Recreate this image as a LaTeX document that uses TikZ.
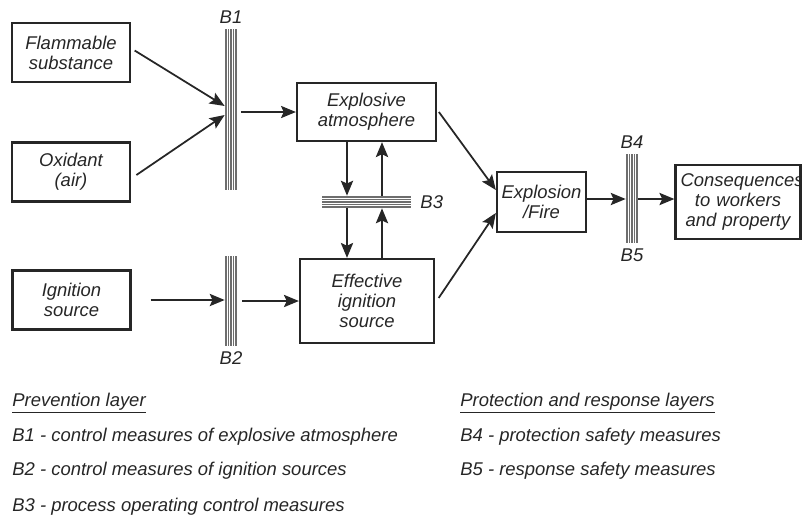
\documentclass[tikz,border=0pt]{standalone}
\usepackage{fontspec}
\setmainfont{Liberation Sans}
\usepackage{tikz}
\usetikzlibrary{
  arrows.meta,
  positioning,
  calc,
}
\definecolor{barrierline}{HTML}{6e6e6e}
\definecolor{inkdark}{HTML}{262626}

\begin{document}
\begin{tikzpicture}[
  box/.style={
    draw=inkdark, line width=1.3pt, align=center, inner sep=2pt,
    font=\itshape\fontsize{10.5}{11.4}\selectfont, text=inkdark,
  },
  vbar/.style={
    minimum width=0.24cm, inner sep=0pt,
    path picture={
      \foreach \i in {-2,...,2}
        \draw[barrierline, line width=0.6pt]
          ([xshift=\i*0.05cm]path picture bounding box.north) --
          ([xshift=\i*0.05cm]path picture bounding box.south);
    },
  },
  hbar/.style={
    minimum height=0.24cm, inner sep=0pt,
    path picture={
      \foreach \i in {-2,...,2}
        \draw[barrierline, line width=0.6pt]
          ([yshift=\i*0.05cm]path picture bounding box.west) --
          ([yshift=\i*0.05cm]path picture bounding box.east);
    },
  },
  blbl/.style={
    font=\itshape\fontsize{10.5}{11.4}\selectfont, text=inkdark, inner sep=1pt,
  },
  arr/.style={
    draw=inkdark, -{Stealth[length=8.5pt, width=7pt, inset=1.6pt]}, line width=1pt,
  },
  legend/.style={
    anchor=west, inner sep=0pt,
    font=\itshape\fontsize{10.5}{11.4}\selectfont, text=inkdark,
  },
]
  \useasboundingbox (0,0) rectangle (16.04,-10.38);

  % Sources
  \node[box, minimum width=2.36cm, minimum height=1.18cm] (flam) at (1.42,-1.05) {Flammable\\substance};
  \node[box, minimum width=2.36cm, minimum height=1.18cm] (oxid) at (1.42,-3.44) {Oxidant\\(air)};
  \node[box, minimum width=2.36cm, minimum height=1.18cm] (ign)  at (1.43,-6.0) {Ignition\\source};

  % Intermediate states
  \node[box, minimum width=2.78cm, minimum height=1.16cm] (expl) at (7.33,-2.24) {Explosive\\atmosphere};
  \node[box, minimum width=2.68cm, minimum height=1.68cm] (eff)  at (7.34,-6.02) {Effective\\ignition\\source};
  \node[box, minimum width=1.78cm, minimum height=1.2cm]  (fire) at (10.83,-4.04) {Explosion\\/Fire};
  \node[box, text width=2.3cm, inner xsep=0.1cm, minimum height=1.48cm] (cons)
    at (14.76,-4.04) {Consequences\\to workers\\and property};

  % Barriers
  \node[vbar, minimum height=3.22cm] (b1) at (4.62,-2.19) {};
  \node[vbar, minimum height=1.8cm]  (b2) at (4.62,-6.02) {};
  \node[hbar, minimum width=1.78cm]  (b3) at (7.33,-4.04) {};
  \node[vbar, minimum height=1.78cm] (b45) at (12.64,-3.97) {};
  \node[blbl, above=2pt of b1] {B1};
  \node[blbl, below=2pt of b2] {B2};
  \node[blbl, right=0.14cm of b3] {B3};
  \node[blbl, above=2pt of b45] {B4};
  \node[blbl, below=2pt of b45] {B5};

  % Connections
  \draw[arr] ([xshift=2pt,yshift=0.04cm]flam.east) -- ([yshift=0.07cm]b1.west);
  \draw[arr] ([xshift=3pt,yshift=-0.06cm]oxid.east) -- ([yshift=-0.11cm]b1.west);
  \draw[arr, line width=0.6pt] ([xshift=2pt]b1.east |- expl.west) -- (expl.west);
  \draw[arr] ([xshift=0.38cm]ign.east) -- (ign.east -| b2.west);
  \draw[arr] ([xshift=0.1cm]b2.east |- eff.west) -- (eff.west);

  \draw[arr] ([xshift=-0.39cm]expl.south) -- ([xshift=-0.39cm]expl.south |- b3.north);
  \draw[arr] ([xshift=0.31cm]expl.south |- b3.north) -- ([xshift=0.31cm]expl.south);
  \draw[arr] ([xshift=-0.39cm]expl.south |- b3.south) -- ([xshift=-0.39cm]expl.south |- eff.north);
  \draw[arr] ([xshift=0.31cm]expl.south |- eff.north) -- ([xshift=0.31cm]expl.south |- b3.south);

  \draw[arr] ([xshift=1pt]expl.east) -- ([yshift=0.24cm]fire.west);
  \draw[arr] ([xshift=2pt,yshift=0.06cm]eff.east) -- ([yshift=-0.22cm]fire.west);
  \draw[arr] ([yshift=0.06cm]fire.east) -- ([yshift=0.06cm]fire.east -| b45.west);
  \draw[arr] ([yshift=0.06cm]b45.east |- cons.west) -- ([yshift=0.06cm]cons.west);

  % Legend
  \node[legend] (prev) at (0.24,-8.06) {\underline{Prevention layer}};
  \node[legend] (lb1)  at (0.24,-8.74) {B1 - control measures of explosive atmosphere};
  \node[legend] (lb2)  at (0.24,-9.42) {B2 - control measures of ignition sources};
  \node[legend] (lb3)  at (0.24,-10.14) {B3 - process operating control measures};
  \node[legend] (prot) at (9.2,-8.06) {\underline{Protection and response layers}};
  \node[legend] (lb4)  at (9.2,-8.74) {B4 - protection safety measures};
  \node[legend] (lb5)  at (9.2,-9.42) {B5 - response safety measures};
\end{tikzpicture}
\end{document}
